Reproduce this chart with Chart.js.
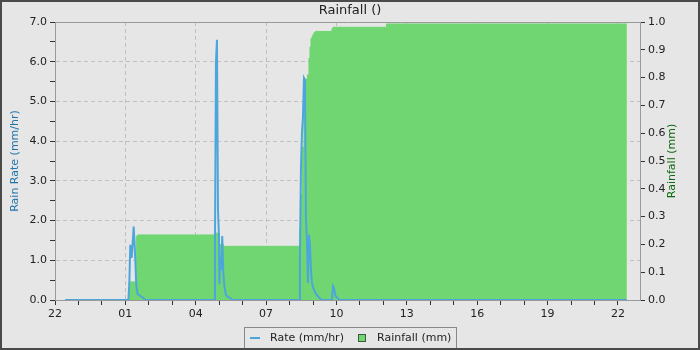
<!DOCTYPE html>
<html>
<head>
<meta charset="utf-8">
<title>Rainfall</title>
<script src="https://cdn.jsdelivr.net/npm/chart.js@4.4.1/dist/chart.umd.min.js"></script>
<style>
    html, body { margin: 0; padding: 0; background: #e6e6e6; }
    #wrap { width: 700px; height: 350px; }
</style>
</head>
<body>
<div id="wrap"><canvas id="rainChart" width="700" height="350"></canvas></div>
<script>
// hours counted from 22:00 on the first day
const xTickLabels = ["22", "01", "04", "07", "10", "13", "16", "19", "22"];

const rateHours = [
    0.43, 3.13, 3.17, 3.21, 3.27, 3.355, 3.42, 3.465, 3.52, 3.6, 3.69, 3.77, 3.84,
    6.79, 6.82, 6.863, 6.905, 6.948, 6.99, 7.01, 7.045, 7.085, 7.13, 7.175, 7.225, 7.29, 7.375, 7.46, 7.59,
    10.42, 10.443, 10.486, 10.528, 10.571, 10.614, 10.656, 10.699, 10.742, 10.784, 10.827, 10.87, 10.912,
    10.955, 10.997, 11.083, 11.168, 11.275, 11.381,
    11.807, 11.85, 11.893, 11.957, 12.04, 12.148, 24.38,
];
const rateValues = [
    0, 0, 0.46, 1.39, 1.06, 1.85, 1.06, 0.38, 0.15, 0.12, 0.08, 0.05, 0,
    0, 1.43, 6.02, 6.55, 2.29, 1.59, 0.4, 1.08, 0.76, 1.61, 0.68, 0.33, 0.12, 0.08, 0.05, 0,
    0, 1.13, 3.32, 4.2, 4.6, 5.59, 5.54, 2.06, 1.46, 0.43, 1.64, 1.39, 0.76,
    0.43, 0.33, 0.2, 0.12, 0.05, 0,
    0, 0.35, 0.3, 0.1, 0.05, 0, 0,
];

const rainHours = [
    0.43, 3.175, 3.465, 3.508, 6.82, 7.01, 7.18, 7.22,
    10.443, 10.486, 10.55, 10.614, 10.678, 10.763, 10.827, 10.87, 10.912, 10.955, 10.997, 11.04, 11.104,
    11.807, 11.85, 14.13, 24.38,
];
const rainValues = [
    0, 0.065, 0.228, 0.234, 0.24, 0.2, 0.19, 0.193,
    0.26, 0.38, 0.55, 0.7, 0.795, 0.81, 0.87, 0.91, 0.94, 0.947, 0.955, 0.962, 0.966,
    0.975, 0.981, 0.993, 0.993,
];

const rateLabel = "Rate (mm/hr)";
const rainLabel = "Rainfall (mm)";
const rateColor = "#4da6db";
const rainColor = "#70d672";
const fontFamily = "'DejaVu Sans', sans-serif";

const chartDecor = {
    id: "chartDecor",
    beforeDraw: (chart) => {
        const { ctx, width, height } = chart;
        ctx.save();
        ctx.fillStyle = "#e6e6e6";
        ctx.fillRect(0, 0, width, height);
        ctx.restore();
    },
    afterDraw: (chart) => {
        const {
            ctx,
            chartArea: { top, bottom, left, right },
        } = chart;
        const midY = (top + bottom) / 2;
        ctx.save();

        // top edge of plot frame
        ctx.strokeStyle = "#999";
        ctx.lineWidth = 1;
        ctx.beginPath();
        ctx.moveTo(left, top + 0.5);
        ctx.lineTo(right, top + 0.5);
        ctx.stroke();

        // title
        ctx.font = "13px " + fontFamily;
        ctx.fillStyle = "#222";
        ctx.textAlign = "center";
        ctx.textBaseline = "middle";
        ctx.fillText("Rainfall ()", 350, 11);

        // axis titles
        ctx.font = "11px " + fontFamily;
        ctx.save();
        ctx.translate(15, midY);
        ctx.rotate(-Math.PI / 2);
        ctx.fillStyle = "#1f74ab";
        ctx.fillText("Rain Rate (mm/hr)", 0, 0);
        ctx.restore();
        ctx.save();
        ctx.translate(672, midY);
        ctx.rotate(-Math.PI / 2);
        ctx.fillStyle = "#0b6a0b";
        ctx.fillText("Rainfall (mm)", 0, 0);
        ctx.restore();

        // legend
        ctx.strokeStyle = "#888";
        ctx.strokeRect(244.5, 327.5, 212, 21);
        ctx.strokeStyle = rateColor;
        ctx.lineWidth = 2;
        ctx.beginPath();
        ctx.moveTo(250, 338);
        ctx.lineTo(260, 338);
        ctx.stroke();
        ctx.fillStyle = rainColor;
        ctx.fillRect(358, 334, 8, 8);
        ctx.strokeStyle = "#3d5a3d";
        ctx.lineWidth = 1;
        ctx.strokeRect(358.5, 334.5, 7, 7);
        ctx.fillStyle = "#222";
        ctx.textAlign = "left";
        ctx.fillText(rateLabel, 270, 338);
        ctx.fillText(rainLabel, 377, 338);

        // outer frame
        ctx.strokeStyle = "#4a4a4a";
        ctx.lineWidth = 2;
        ctx.strokeRect(1, 1, 698, 348);
        ctx.restore();
    },
};

const tickFont = { family: fontFamily, size: 11 };

const ctx = document.getElementById("rainChart").getContext("2d");
const rainChart = new Chart(ctx, {
    type: "line",
    data: {
        datasets: [
            {
                label: rateLabel,
                data: rateHours.map((h, i) => ({ x: h, y: rateValues[i] })),
                yAxisID: "y",
                borderColor: rateColor,
                borderWidth: 2,
                pointRadius: 0,
                fill: false,
                tension: 0,
            },
            {
                label: rainLabel,
                data: rainHours.map((h, i) => ({ x: h, y: rainValues[i] })),
                yAxisID: "y1",
                stepped: "before",
                fill: "origin",
                backgroundColor: rainColor,
                borderColor: rainColor,
                borderWidth: 1,
                pointRadius: 0,
            },
        ],
    },
    options: {
        responsive: false,
        animation: false,
        events: [],
        layout: {
            padding: { top: 22, left: 0, right: 0, bottom: 0 },
        },
        scales: {
            x: {
                type: "linear",
                min: 0,
                max: 24.94,
                afterFit: (s) => {
                    s.height = 50;
                },
                ticks: {
                    stepSize: 1,
                    maxTicksLimit: 100,
                    autoSkip: false,
                    maxRotation: 0,
                    includeBounds: false,
                    color: "#222",
                    font: tickFont,
                    padding: 3,
                    callback: (v) => (v % 3 === 0 ? xTickLabels[v / 3] : ""),
                },
                grid: {
                    color: (c) =>
                        c.tick && c.tick.value % 3 === 0 && c.tick.value > 0
                            ? "#c0c0c0"
                            : "transparent",
                    tickColor: "#333",
                    tickLength: 5,
                },
                border: { color: "#999", dash: [4, 3] },
            },
            y: {
                position: "left",
                min: 0,
                max: 7,
                afterFit: (s) => {
                    s.width = 55;
                },
                ticks: {
                    stepSize: 0.5,
                    maxTicksLimit: 100,
                    color: "#222",
                    font: tickFont,
                    padding: 3,
                    callback: (v) => (Number.isInteger(v) ? v.toFixed(1) : ""),
                },
                grid: {
                    color: (c) =>
                        c.tick && Number.isInteger(c.tick.value) && c.tick.value > 0 && c.tick.value < 7
                            ? "#c0c0c0"
                            : "transparent",
                    tickColor: "#333",
                    tickLength: 5,
                },
                border: { color: "#999", dash: [4, 3] },
            },
            y1: {
                position: "right",
                min: 0,
                max: 1,
                afterFit: (s) => {
                    s.width = 60;
                },
                ticks: {
                    stepSize: 0.05,
                    maxTicksLimit: 100,
                    color: "#222",
                    font: tickFont,
                    padding: 3,
                    callback: (v) =>
                        Math.round(v * 100) % 10 === 0 ? v.toFixed(1) : "",
                },
                grid: {
                    drawOnChartArea: false,
                    tickColor: "#333",
                    tickLength: 5,
                },
                border: { color: "#999" },
            },
        },
        plugins: {
            legend: { display: false },
            tooltip: { enabled: false },
        },
    },
    plugins: [chartDecor],
});
</script>
</body>
</html>
